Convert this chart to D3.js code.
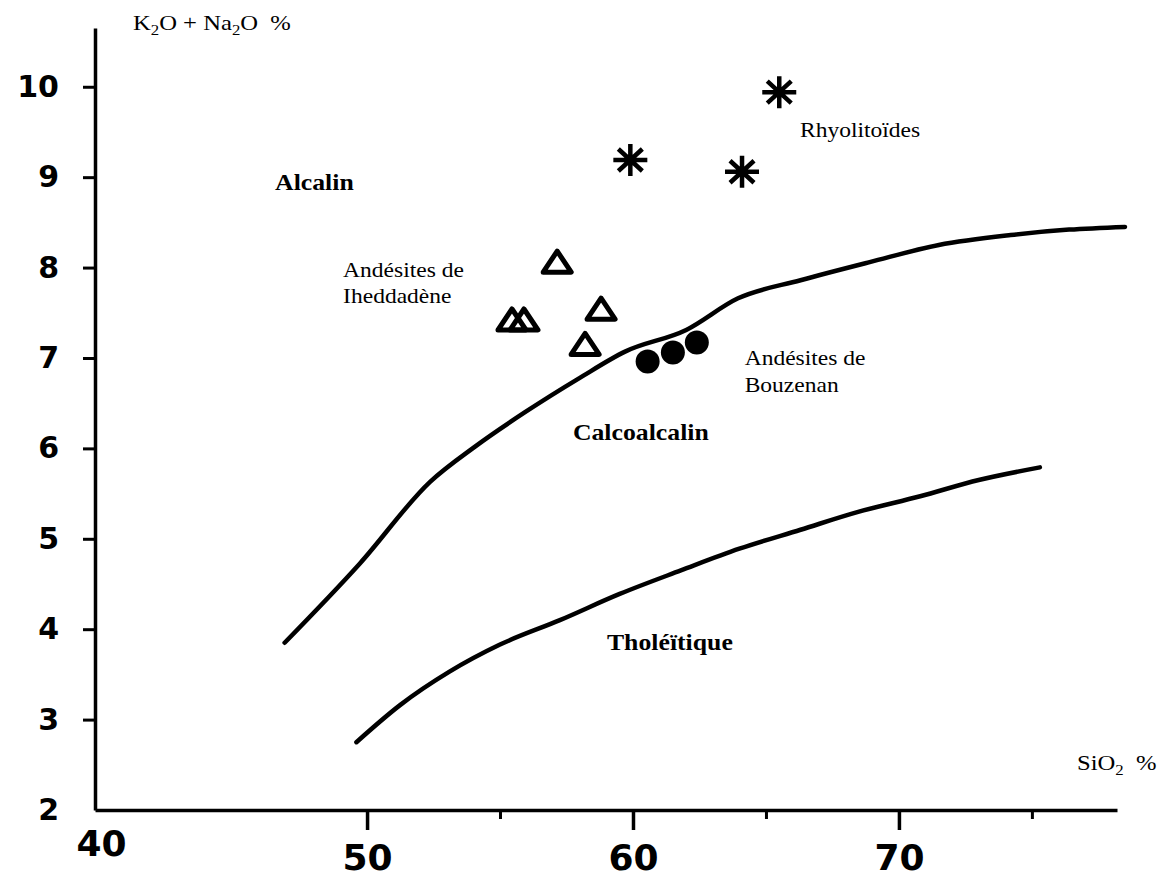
<!DOCTYPE html>
<html>
<head>
<meta charset="utf-8">
<script src="https://cdn.jsdelivr.net/npm/d3@7"></script>
<style>
  body { margin: 0; background: #fff; }
</style>
</head>
<body>
<div id="chart"></div>
<script>
// axis ticks
const xMajorTicks = [40, 50, 60, 70];
const xMinorTicks = [55, 65, 75];
const yTicks = [2, 3, 4, 5, 6, 7, 8, 9, 10];

// samples (SiO2 %, K2O + Na2O %)
const rhyoliteSiO2 = [65.5, 59.9, 64.1];
const rhyoliteAlk = [9.94, 9.19, 9.06];
const iheddadeneSiO2 = [57.15, 58.8, 58.2, 55.45, 55.9];
const iheddadeneAlk = [8.06, 7.54, 7.15, 7.42, 7.42];
const bouzenanSiO2 = [60.55, 61.5, 62.4];
const bouzenanAlk = [6.96, 7.06, 7.17];

// boundary curves
const alkalineLimitSiO2 = [46.9, 49.74, 52.37, 54.06, 55.94, 58.0, 59.7, 62.0, 63.95, 66.3, 68.9, 71.5, 74.2, 76.4, 78.5];
const alkalineLimitAlk = [3.85, 4.73, 5.63, 6.02, 6.40, 6.78, 7.07, 7.31, 7.66, 7.86, 8.06, 8.25, 8.36, 8.42, 8.45];
const tholeiiticLimitSiO2 = [49.6, 51.24, 53.1, 55.0, 57.25, 59.5, 61.8, 64.0, 66.3, 68.5, 70.8, 73.0, 75.3];
const tholeiiticLimitAlk = [2.75, 3.16, 3.53, 3.83, 4.10, 4.39, 4.65, 4.89, 5.10, 5.30, 5.47, 5.65, 5.79];

// annotations (text, SiO2, alkali at baseline, bold)
const noteText = ["Alcalin", "Andésites de", "Iheddadène", "Rhyolitoïdes", "Andésites de", "Bouzenan", "Calcoalcalin", "Tholéïtique"];
const noteSiO2 = [46.54, 49.1, 49.1, 66.28, 64.2, 64.2, 57.74, 59.02];
const noteAlk = [8.86, 7.90, 7.61, 9.44, 6.92, 6.62, 6.09, 3.77];
const noteBold = [true, false, false, false, false, false, true, true];

const config = {
  width: 1172,
  height: 879,
  origin: {x: 95, y: 810},
  xDomain: [39.77, 78.2],
  xRange: [95, 1117],
  yDomain: [2, 10.65],
  yRange: [810, 28],
  axisWidth: 3.5,
  curveWidth: 4.5,
  stretch: 1.12,
  serif: "'Liberation Serif', 'Times New Roman', serif",
  heavy: "'DejaVu Sans', sans-serif"
};

const x = d3.scaleLinear(config.xDomain, config.xRange);
const y = d3.scaleLinear(config.yDomain, config.yRange);

const svg = d3.select("#chart")
  .append("svg")
  .attr("width", config.width)
  .attr("height", config.height)
  .attr("viewBox", [0, 0, config.width, config.height]);

// x axis, major ticks with labels
svg.append("g")
  .attr("transform", `translate(0,${config.origin.y})`)
  .call(d3.axisBottom(x).tickValues(xMajorTicks).tickSize(20).tickPadding(14).tickSizeOuter(0))
  .call(g => g.select(".domain").attr("stroke-width", config.axisWidth))
  .call(g => g.selectAll(".tick line").attr("stroke-width", 3.5))
  .call(g => g.selectAll(".tick").filter(d => d === 40).select("line").remove())
  .call(g => g.selectAll(".tick").filter(d => d === 40).select("text").attr("y", 20))
  .call(g => g.selectAll(".tick text")
    .attr("font-family", config.heavy)
    .attr("font-weight", "bold")
    .attr("font-size", 36)
    .attr("fill", "#000"));

// x axis, minor ticks
svg.append("g")
  .attr("transform", `translate(0,${config.origin.y})`)
  .call(d3.axisBottom(x).tickValues(xMinorTicks).tickSize(9).tickFormat("").tickSizeOuter(0))
  .call(g => g.select(".domain").remove())
  .call(g => g.selectAll(".tick line").attr("stroke-width", 3));

// y axis
svg.append("g")
  .attr("transform", `translate(${config.origin.x},0)`)
  .call(d3.axisLeft(y).tickValues(yTicks).tickSize(12).tickPadding(24).tickSizeOuter(0))
  .call(g => g.select(".domain").attr("stroke-width", config.axisWidth))
  .call(g => g.selectAll(".tick line").attr("stroke-width", 3))
  .call(g => g.selectAll(".tick").filter(d => d === 2).select("line").remove())
  .call(g => g.selectAll(".tick text")
    .attr("font-family", config.heavy)
    .attr("font-weight", "bold")
    .attr("font-size", 30)
    .attr("fill", "#000"));

// axis titles
const subTitle = (gx, gy, parts) => {
  const t = svg.append("text")
    .attr("transform", `translate(${gx},${gy}) scale(${config.stretch},1)`)
    .attr("font-family", config.serif)
    .attr("font-size", 22)
    .attr("fill", "#000");
  parts.forEach(p => {
    t.append("tspan")
      .attr("font-size", p.sub ? 15 : 22)
      .attr("dy", p.sub ? 5 : (p.back ? -5 : 0))
      .style("white-space", "pre")
      .text(p.t);
  });
};
subTitle(133, 30, [{t: "K"}, {t: "2", sub: true}, {t: "O + Na", back: true}, {t: "2", sub: true}, {t: "O  %", back: true}]);
subTitle(1077, 770, [{t: "Si"}, {t: "O"}, {t: "2", sub: true}, {t: "  %", back: true}]);

// boundary curves
const curve = d3.line().curve(d3.curveMonotoneX);

svg.append("path")
  .attr("d", curve(d3.range(alkalineLimitSiO2.length).map(i => [x(alkalineLimitSiO2[i]), y(alkalineLimitAlk[i])])))
  .attr("fill", "none")
  .attr("stroke", "#000")
  .attr("stroke-width", config.curveWidth)
  .attr("stroke-linecap", "round");

svg.append("path")
  .attr("d", curve(d3.range(tholeiiticLimitSiO2.length).map(i => [x(tholeiiticLimitSiO2[i]), y(tholeiiticLimitAlk[i])])))
  .attr("fill", "none")
  .attr("stroke", "#000")
  .attr("stroke-width", config.curveWidth)
  .attr("stroke-linecap", "round");

// rhyolitoids: eight-ray stars
const star = "M-17,0L17,0M0,-16L0,16M-12,-11L12,11M-12,11L12,-11";
svg.append("g")
  .selectAll("path")
  .data(d3.range(rhyoliteSiO2.length))
  .join("path")
  .attr("transform", i => `translate(${x(rhyoliteSiO2[i])},${y(rhyoliteAlk[i])})`)
  .attr("d", star)
  .attr("stroke", "#000")
  .attr("stroke-width", 4.5)
  .attr("fill", "none");

// Iheddadène andesites: open triangles
const triangle = "M0,-11L14,10L-14,10Z";
svg.append("g")
  .selectAll("path")
  .data(d3.range(iheddadeneSiO2.length))
  .join("path")
  .attr("transform", i => `translate(${x(iheddadeneSiO2[i])},${y(iheddadeneAlk[i])})`)
  .attr("d", triangle)
  .attr("stroke", "#000")
  .attr("stroke-width", 5)
  .attr("stroke-linejoin", "round")
  .attr("fill", "none");

// Bouzenan andesites: filled dots
svg.append("g")
  .selectAll("circle")
  .data(d3.range(bouzenanSiO2.length))
  .join("circle")
  .attr("cx", i => x(bouzenanSiO2[i]))
  .attr("cy", i => y(bouzenanAlk[i]))
  .attr("r", 12)
  .attr("fill", "#000");

// field and group labels
svg.append("g")
  .selectAll("text")
  .data(d3.range(noteText.length))
  .join("text")
  .attr("transform", i => `translate(${x(noteSiO2[i])},${y(noteAlk[i])}) scale(${config.stretch},1)`)
  .attr("font-family", config.serif)
  .attr("font-weight", i => noteBold[i] ? "bold" : "normal")
  .attr("font-size", i => noteBold[i] ? 23 : 21)
  .attr("fill", "#000")
  .text(i => noteText[i]);
</script>
</body>
</html>
